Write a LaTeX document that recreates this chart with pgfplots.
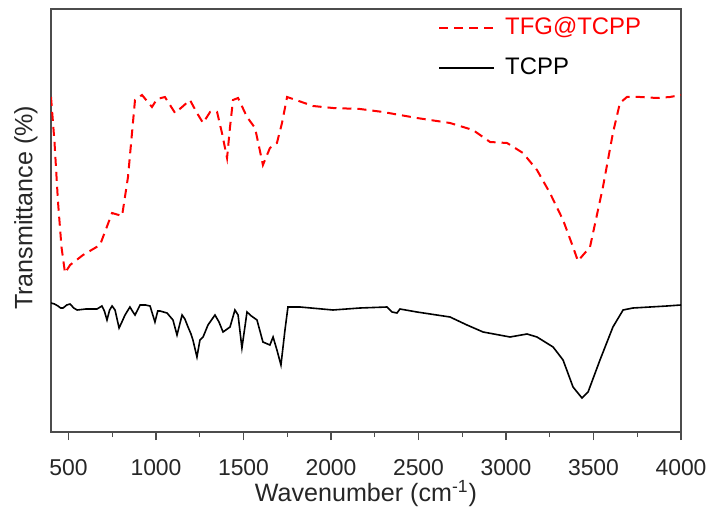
\documentclass[border=0pt]{standalone}
\usepackage{pgfplots}
\pgfplotsset{compat=1.18}
\usepackage{fontspec}
\setmainfont{Liberation Sans}
\begin{document}
\begin{tikzpicture}
\path[use as bounding box] (-25.5bp,-37.5bp) rectangle (329.5bp,216bp);
\begin{axis}[
  at={(0,0)}, anchor=south west,
  scale only axis, width=315bp, height=211.5bp,
  xmin=400, xmax=4000, ymin=0, ymax=423,
  xtick={500,1000,...,4000}, minor x tick num=1,
  ytick=\empty,
  tick align=outside, xtick pos=bottom,
  major tick length=4bp, minor tick length=2.5bp,
  axis line style={draw=black!70, line width=0.7bp},
  every tick/.style={black!70, line width=0.7bp},
  /pgf/number format/assume math mode=true,
  /pgf/number format/1000 sep={},
  xticklabel style={font=\fontsize{11.5}{13}\selectfont, anchor=center, inner sep=0pt, yshift=-14bp, text=black!85},
  xlabel={Wavenumber (cm\textsuperscript{-1})},
  ylabel={Transmittance (\%)},
  every axis x label/.style={at={(axis description cs:0.5,-0.146)}, anchor=center, inner sep=0pt, font=\fontsize{12.6}{14}\selectfont, text=black!85},
  every axis y label/.style={at={(axis description cs:-0.04,0.53)}, anchor=center, rotate=90, font=\fontsize{12.6}{14}\selectfont, text=black!85},
  legend cell align=left,
  legend style={draw=none, fill=none, at={(axis description cs:0.614,0.99)}, anchor=north west, inner sep=0pt, row sep=6bp, font=\fontsize{12}{14}\selectfont,
    /tikz/every odd column/.append style={column sep=3bp}},
  legend image code/.code={\draw[#1] (0bp,0bp) -- (27.5bp,0bp);},
]
\addplot[red, line width=1bp, dash pattern=on 4.5bp off 3bp] coordinates {
(400,335) (420,290) (440,230) (460,185) (480,159) (509,167) (583,177) (680,187) (749,219) (806,216) (840,255) (880,332) (920,337) (977,325) (1006,333) (1051,335) (1109,319) (1149,325) (1194,332) (1234,319) (1269,309) (1309,320) (1349,320) (1377,299) (1406,274) (1423,305) (1440,332) (1469,334) (1520,315) (1566,304) (1611,267) (1651,284) (1691,289) (1720,309) (1749,335) (1783,333) (1897,326) (2011,324) (2166,323) (2297,320) (2491,314) (2680,309) (2811,302) (2909,290) (3006,289) (3097,279) (3177,262) (3251,239) (3326,212) (3383,185) (3411,171) (3480,185) (3554,245) (3611,299) (3651,329) (3691,335) (3766,335) (3863,334) (3937,335) (4000,337)
};
\addlegendentry{\textcolor{red}{TFG@TCPP}}
\addplot[black, line width=0.8bp] coordinates {
(400,129) (420,128) (440,126) (455,124) (469,124) (490,127) (509,128) (530,124) (549,122) (600,123) (663,123) (691,126) (705,121) (720,112) (735,122) (749,126) (766,122) (789,104) (805,110) (823,117) (851,125) (865,121) (880,117) (909,127) (940,127) (966,126) (994,110) (1010,121) (1023,121) (1063,119) (1097,112) (1120,97) (1149,117) (1165,113) (1183,105) (1200,98) (1211,92) (1234,75) (1251,92) (1269,95) (1297,107) (1337,117) (1360,110) (1383,100) (1423,105) (1451,122) (1469,117) (1491,84) (1520,120) (1545,116) (1577,112) (1611,90) (1651,87) (1669,95) (1691,82) (1714,67) (1737,102) (1754,125) (1823,125) (2011,122) (2166,124) (2320,125) (2349,120) (2377,119) (2394,123) (2491,120) (2680,115) (2777,107) (2869,100) (3023,95) (3120,98) (3177,95) (3269,85) (3326,72) (3383,45) (3434,34) (3469,40) (3537,72) (3611,105) (3669,122) (3726,124) (3823,125) (3920,126) (4000,127)
};
\addlegendentry{TCPP}
\end{axis}
\end{tikzpicture}
\end{document}
